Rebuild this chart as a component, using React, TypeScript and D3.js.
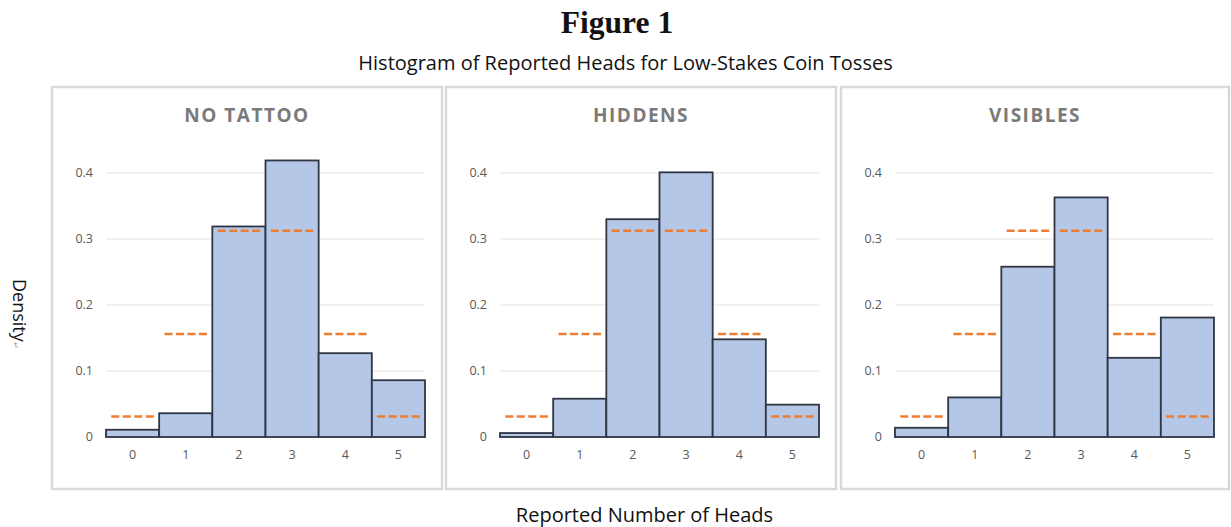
import React from "react";
import * as d3 from "d3";

const categories = ["0", "1", "2", "3", "4", "5"];
const noTattoo = [0.011, 0.036, 0.319, 0.419, 0.127, 0.086];
const hiddens = [0.006, 0.058, 0.330, 0.401, 0.148, 0.049];
const visibles = [0.014, 0.060, 0.258, 0.363, 0.120, 0.181];
const expected = [0.03125, 0.15625, 0.3125, 0.3125, 0.15625, 0.03125];
const panelNames = ["NO TATTOO", "HIDDENS", "VISIBLES"];
const panelSeries = [noTattoo, hiddens, visibles];
const yTicks = [0, 0.1, 0.2, 0.3, 0.4];
const yTickLabels = ["0", "0.1", "0.2", "0.3", "0.4"];

const W = 1231;
const H = 527;
const panelLeft = [52, 446, 841];
const panelW = [390, 390, 388];
const panelTop = 87;
const panelBottom = 489;

const sans = "'Open Sans', 'Liberation Sans', sans-serif";

function Panel({ idx }: { idx: number }) {
  const px = panelLeft[idx];
  const pw = panelW[idx];
  const x = d3
    .scaleBand<string>()
    .domain(categories)
    .range([px + 54, px + 373])
    .paddingInner(0)
    .paddingOuter(0);
  const y = d3.scaleLinear().domain([0, 0.4]).range([437, 173]);
  const values = panelSeries[idx];
  const bw = x.bandwidth();
  const [x0, x1] = x.range();
  return (
    <g>
      <rect
        x={px}
        y={panelTop}
        width={pw}
        height={panelBottom - panelTop}
        fill="#ffffff"
        stroke="#d9d9d9"
        strokeWidth={2.5}
      />
      <text
        x={px + pw / 2}
        y={121.5}
        textAnchor="middle"
        fontFamily={sans}
        fontWeight={700}
        fontSize={19}
        letterSpacing={1.5}
        fill="#7a7a7a"
      >
        {panelNames[idx]}
      </text>
      {yTicks.map((t, i) =>
        t > 0 ? (
          <line
            key={"g" + i}
            x1={x0}
            x2={x1}
            y1={y(t)}
            y2={y(t)}
            stroke="#ececec"
            strokeWidth={1.5}
          />
        ) : null
      )}
      {yTicks.map((t, i) => (
        <text
          key={"yl" + i}
          x={px + 41}
          y={y(t)}
          dy="0.35em"
          textAnchor="end"
          fontFamily={sans}
          fontSize={12.5}
          fill="#595959"
        >
          {yTickLabels[i]}
        </text>
      ))}
      {categories.map((c, i) => (
        <rect
          key={"b" + i}
          x={x(c)!}
          y={y(values[i])}
          width={bw}
          height={y(0) - y(values[i])}
          fill="#b4c7e7"
          stroke="#2f3542"
          strokeWidth={1.8}
        />
      ))}
      {categories.map((c, i) => (
        <line
          key={"e" + i}
          x1={x(c)! + bw * 0.1}
          x2={x(c)! + bw * 0.9}
          y1={y(expected[i])}
          y2={y(expected[i])}
          stroke="#ed7d31"
          strokeWidth={2.5}
          strokeDasharray="8,3.5"
        />
      ))}
      {categories.map((c, i) => (
        <text
          key={"xl" + i}
          x={x(c)! + bw / 2}
          y={459}
          textAnchor="middle"
          fontFamily={sans}
          fontSize={12.5}
          fill="#595959"
        >
          {c}
        </text>
      ))}
    </g>
  );
}

export default function App() {
  return (
    <svg
      width={W}
      height={H}
      style={{ position: "absolute", left: 0, top: 0, background: "#ffffff" }}
    >
      <rect x={0} y={0} width={W} height={H} fill="#ffffff" />
      <text
        x={617}
        y={33}
        textAnchor="middle"
        fontFamily="'Liberation Serif', 'Times New Roman', serif"
        fontWeight={700}
        fontSize={31.5}
        fill="#111111"
      >
        Figure 1
      </text>
      <text
        x={625.5}
        y={70}
        textAnchor="middle"
        fontFamily={sans}
        fontSize={20}
        fill="#111111"
      >
        Histogram of Reported Heads for Low-Stakes Coin Tosses
      </text>
      {panelNames.map((_, i) => (
        <Panel key={i} idx={i} />
      ))}
      <text
        transform="translate(13,279) rotate(90)"
        fontFamily={sans}
        fontSize={18}
        fill="#111111"
      >
        Density
        <tspan fontSize={8} fill="#9a9a9a">↵</tspan>
      </text>
      <text
        x={644.5}
        y={522}
        textAnchor="middle"
        fontFamily={sans}
        fontSize={20}
        fill="#111111"
      >
        Reported Number of Heads
      </text>
    </svg>
  );
}
